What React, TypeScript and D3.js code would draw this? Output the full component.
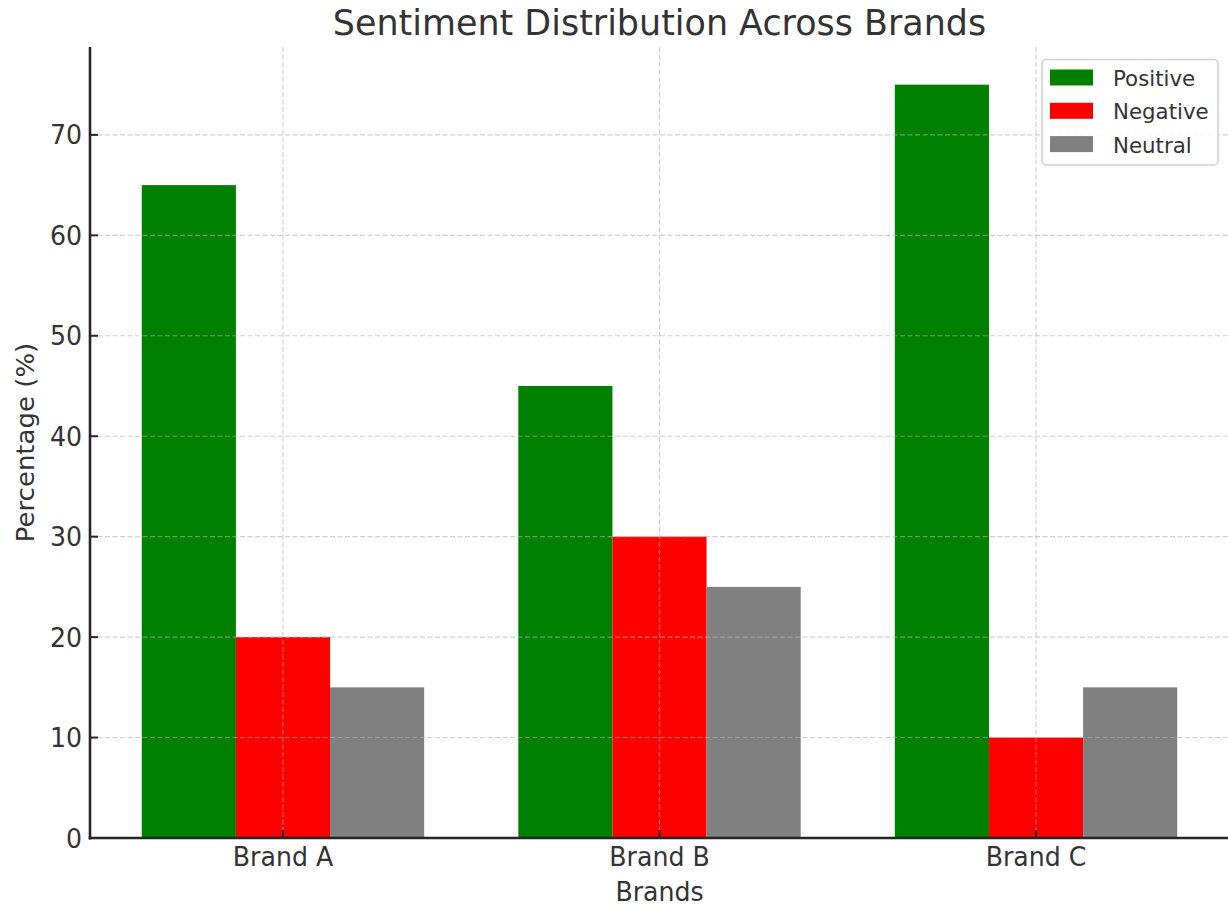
import React from "react";
import * as d3 from "d3";

const brands = ["Brand A", "Brand B", "Brand C"];
const seriesNames = ["Positive", "Negative", "Neutral"];
const positive = [65, 45, 75];
const negative = [20, 30, 10];
const neutral = [15, 25, 15];
const seriesColors = ["#008000", "#ff0000", "#808080"];
const yTicks = [0, 10, 20, 30, 40, 50, 60, 70];
const title = "Sentiment Distribution Across Brands";
const xLabel = "Brands";
const yLabel = "Percentage (%)";

const W = 1228;
const H = 906;
const M = { left: 90, right: 1229, top: 47, bottom: 838 };
const FONT = "'DejaVu Sans', Verdana, sans-serif";
const TXT = "#333333";
const SX = 0.97;

export default function App() {
  const series = [positive, negative, neutral];
  const barW = 0.25;
  const pad = (brands.length - 1 + 3 * barW) * 0.05;
  const x = d3
    .scaleLinear()
    .domain([-1.5 * barW - pad, brands.length - 1 + 1.5 * barW + pad])
    .range([M.left, M.right]);
  const yMax = d3.max(series.flat())! * 1.05;
  const y = d3.scaleLinear().domain([0, yMax]).range([M.bottom, M.top]);
  const bw = x(barW) - x(0);

  const T = (props: any) => {
    const { x: tx, y: ty, rot, children, ...rest } = props;
    return (
      <text
        transform={`translate(${tx},${ty})${rot ? ` rotate(${rot})` : ""} scale(${rot ? 1 : SX},${rot ? SX : 1})`}
        fontFamily={FONT}
        fill={TXT}
        {...rest}
      >
        {children}
      </text>
    );
  };

  return (
    <svg
      width={W}
      height={H}
      style={{ position: "absolute", left: 0, top: 0, background: "#fff" }}
    >
      <rect width={W} height={H} fill="#fff" />
      {/* bars */}
      {series.map((vals, si) =>
        vals.map((v, bi) => (
          <rect
            key={`b${si}-${bi}`}
            x={x(bi + (si - 1) * barW) - bw / 2}
            y={y(v)}
            width={bw}
            height={y(0) - y(v)}
            fill={seriesColors[si]}
          />
        ))
      )}
      {/* grid */}
      <g stroke="#b0b0b0" strokeOpacity={0.6} strokeWidth={1.1} strokeDasharray="5,2.5">
        {yTicks.map((t) => (
          <line key={`gy${t}`} x1={M.left} x2={M.right} y1={y(t)} y2={y(t)} />
        ))}
        {brands.map((b, i) => (
          <line key={`gx${b}`} x1={x(i)} x2={x(i)} y1={M.top} y2={M.bottom} />
        ))}
      </g>
      {/* spines */}
      <line x1={M.left} x2={M.left} y1={M.top} y2={M.bottom + 1.5} stroke="#262626" strokeWidth={2.6} />
      <line x1={M.left - 1.3} x2={M.right} y1={M.bottom} y2={M.bottom} stroke="#262626" strokeWidth={2.6} />
      {/* y ticks */}
      {yTicks.map((t) => (
        <g key={`yt${t}`}>
          <line x1={M.left} x2={M.left + 8} y1={y(t)} y2={y(t)} stroke="#262626" strokeWidth={2} />
          <T x={M.left - 8} y={y(t) + 9.5} fontSize={26} textAnchor="end">
            {t}
          </T>
        </g>
      ))}
      {/* x ticks */}
      {brands.map((b, i) => (
        <g key={`xt${b}`}>
          <line x1={x(i)} x2={x(i)} y1={M.bottom} y2={M.bottom - 8} stroke="#262626" strokeWidth={2} />
          <T x={x(i)} y={866} fontSize={26} textAnchor="middle">
            {b}
          </T>
        </g>
      ))}
      {/* labels */}
      <T x={(M.left + M.right) / 2} y={901} fontSize={26} textAnchor="middle">
        {xLabel}
      </T>
      <T x={34} y={(M.top + M.bottom) / 2} rot={-90} fontSize={26} textAnchor="middle">
        {yLabel}
      </T>
      <T x={(M.left + M.right) / 2} y={35} fontSize={36} textAnchor="middle">
        {title}
      </T>
      {/* legend */}
      <g>
        <rect x={1042} y={59.5} width={176} height={105.5} rx={4} fill="#fff" fillOpacity={0.85} stroke="#d0d0d0" strokeWidth={1.5} />
        {seriesNames.map((n, i) => (
          <g key={`lg${n}`}>
            <rect x={1050} y={69.5 + i * 33.3} width={43} height={16} fill={seriesColors[i]} />
            <T x={1113} y={86 + i * 33.3} fontSize={22}>
              {n}
            </T>
          </g>
        ))}
      </g>
    </svg>
  );
}
